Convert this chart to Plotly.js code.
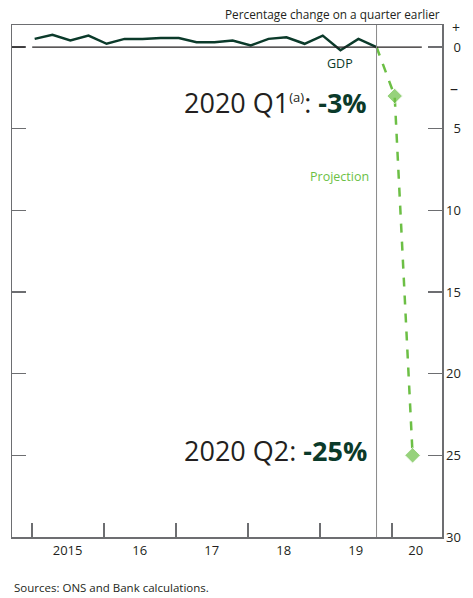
<!DOCTYPE html>
<html>
<head>
<meta charset="utf-8">
<script src="https://cdn.plot.ly/plotly-3.0.1.min.js"></script>
<style>html,body{margin:0;padding:0;background:#fff;}#chart{width:473px;height:598px;}</style>
</head>
<body>
<div id="chart"></div>
<script>
// Quarterly GDP growth, % change on a quarter earlier
const gdpQuarters = ["2015 Q1","2015 Q2","2015 Q3","2015 Q4","2016 Q1","2016 Q2","2016 Q3","2016 Q4",
  "2017 Q1","2017 Q2","2017 Q3","2017 Q4","2018 Q1","2018 Q2","2018 Q3","2018 Q4",
  "2019 Q1","2019 Q2","2019 Q3","2019 Q4"];
const gdpValues = [0.5,0.75,0.4,0.7,0.2,0.5,0.5,0.55,0.55,0.3,0.3,0.4,0.1,0.5,0.6,0.2,0.7,-0.2,0.5,0.0];
// Projection (starts from last outturn)
const projQuarters = ["2019 Q4","2020 Q1","2020 Q2"];
const projValues = [0.0,-3,-25];
// Axis ticks and labels
const yearBoundaries = ["2015","2016","2017","2018","2019","2020"];
const yearLabels = ["2015","16","17","18","19","20"];
const yearLabelPos = ["2015-07-01","2016-07-01","2017-07-01","2018-07-01","2019-07-01","2020-05-01"];
const yTickVals = [0,-5,-10,-15,-20,-25,-30];
const yTickText = ["0","5","10","15","20","25","30"];

const qMonth = {Q1:"01",Q2:"04",Q3:"07",Q4:"10"};
function qDate(q){const p=q.split(" ");return p[0]+"-"+qMonth[p[1]]+"-15";}
// right-align tick labels by padding with figure spaces
function padLabel(s){return s.length<2 ? "\u2007"+s : s;}

const darkGreen = "#0b3a2a";
const green = "#6cbf45";
const axisGray = "#6d6e71";
const textCol = "#231f20";
const FONT = "Open Sans, Noto Sans, sans-serif";
const xRange = ["2014-09-22","2020-09-11"];

const traces = [
  {x: gdpQuarters.map(qDate), y: gdpValues, type:"scatter", mode:"lines",
   line:{color:darkGreen,width:2.5}, hoverinfo:"skip", showlegend:false},
  {x: projQuarters.map(qDate), y: projValues, type:"scatter", mode:"lines+markers",
   line:{color:green,width:2.5,dash:"dash"},
   marker:{symbol:"diamond",size:[0,12,12],color:green},
   hoverinfo:"skip", showlegend:false},
  {x: yearLabelPos, y: yearLabelPos.map(()=>null), xaxis:"x2", type:"scatter", mode:"markers",
   hoverinfo:"skip", showlegend:false}
];

const layout = {
  width:473, height:598,
  margin:{l:12,r:31,t:25,b:61},
  paper_bgcolor:"#fff", plot_bgcolor:"#fff",
  font:{family:FONT,color:textCol,size:13},
  showlegend:false,
  xaxis:{type:"date", range:xRange, tickvals:yearBoundaries.map(y=>y+"-01-01"),
    ticktext:yearBoundaries.map(()=>""), ticks:"inside", ticklen:14, tickwidth:1.5, tickcolor:axisGray,
    showline:true, linecolor:axisGray, linewidth:1.5, mirror:true, showgrid:false, zeroline:false, fixedrange:true},
  xaxis2:{type:"date", range:xRange, overlaying:"x", anchor:"y", side:"bottom",
    tickvals:yearLabelPos, ticktext:yearLabels, ticks:"", showline:false, showgrid:false, zeroline:false,
    ticklabelstandoff:4, tickfont:{size:13,color:textCol}},
  yaxis:{side:"right", range:[-30,1.35], tickvals:yTickVals, ticktext:yTickText.map(padLabel),
    ticks:"inside", ticklen:14, tickwidth:1.5, tickcolor:axisGray, showline:true, linecolor:axisGray, linewidth:1.5,
    mirror:"ticks", showgrid:false, zeroline:false, tickfont:{size:13,color:textCol}, fixedrange:true},
  shapes:[
    {type:"line", xref:"paper", yref:"y", x0:0, x1:0.03, y0:0, y1:0, line:{color:textCol,width:1.2}},
    {type:"line", xref:"paper", yref:"y", x0:0.047, x1:0.953, y0:0, y1:0, line:{color:textCol,width:1.2}},
    {type:"line", xref:"x", yref:"paper", x0:qDate(gdpQuarters[gdpQuarters.length-1]), x1:qDate(gdpQuarters[gdpQuarters.length-1]),
     y0:0, y1:1, line:{color:"#8a8a8a",width:1}}
  ],
  annotations:[
    {xref:"paper", yref:"paper", x:1, y:1, yshift:1, xanchor:"right", yanchor:"bottom",
     text:"Percentage change on a quarter earlier", showarrow:false, font:{size:11.8,color:textCol}},
    {xref:"paper", yref:"y", x:1, xshift:9, y:0, yshift:9, xanchor:"left", yanchor:"bottom", borderpad:0, text:"+", showarrow:false, font:{size:14,color:textCol}},
    {xref:"paper", yref:"y", x:1, xshift:6, y:-2.5, xanchor:"left", yanchor:"middle", text:"\u2013", showarrow:false, font:{size:16,color:textCol}},
    {xref:"x", yref:"y", x:qDate("2019 Q2"), y:-1.0, xanchor:"center", yanchor:"middle", text:"GDP", showarrow:false, font:{size:12.5,color:darkGreen}},
    {xref:"x", yref:"y", x:qDate("2019 Q4"), xshift:-8, y:-3.4, xanchor:"right", yanchor:"middle",
     text:"2020 Q1<sup><span style=\"font-size:13px\">(a)</span></sup>: <b><span style=\"color:"+darkGreen+"\">-3%</span></b>", showarrow:false, font:{size:27,color:textCol}},
    {xref:"x", yref:"y", x:qDate("2019 Q4"), xshift:-6, y:-7.9, xanchor:"right", yanchor:"middle",
     text:"Projection", showarrow:false, font:{size:12.5,color:green}},
    {xref:"x", yref:"y", x:qDate("2019 Q4"), xshift:-8, y:-24.7, xanchor:"right", yanchor:"middle",
     text:"2020 Q2: <b><span style=\"color:"+darkGreen+"\">-25%</span></b>", showarrow:false, font:{size:27,color:textCol}},
    {xref:"paper", yref:"paper", x:0, y:0, yshift:-41, xanchor:"left", yanchor:"top",
     text:"Sources: ONS and Bank calculations.", showarrow:false, font:{size:11.5,color:textCol}}
  ]
};

Plotly.newPlot("chart", traces, layout, {displayModeBar:false, staticPlot:true});
</script>
</body>
</html>
